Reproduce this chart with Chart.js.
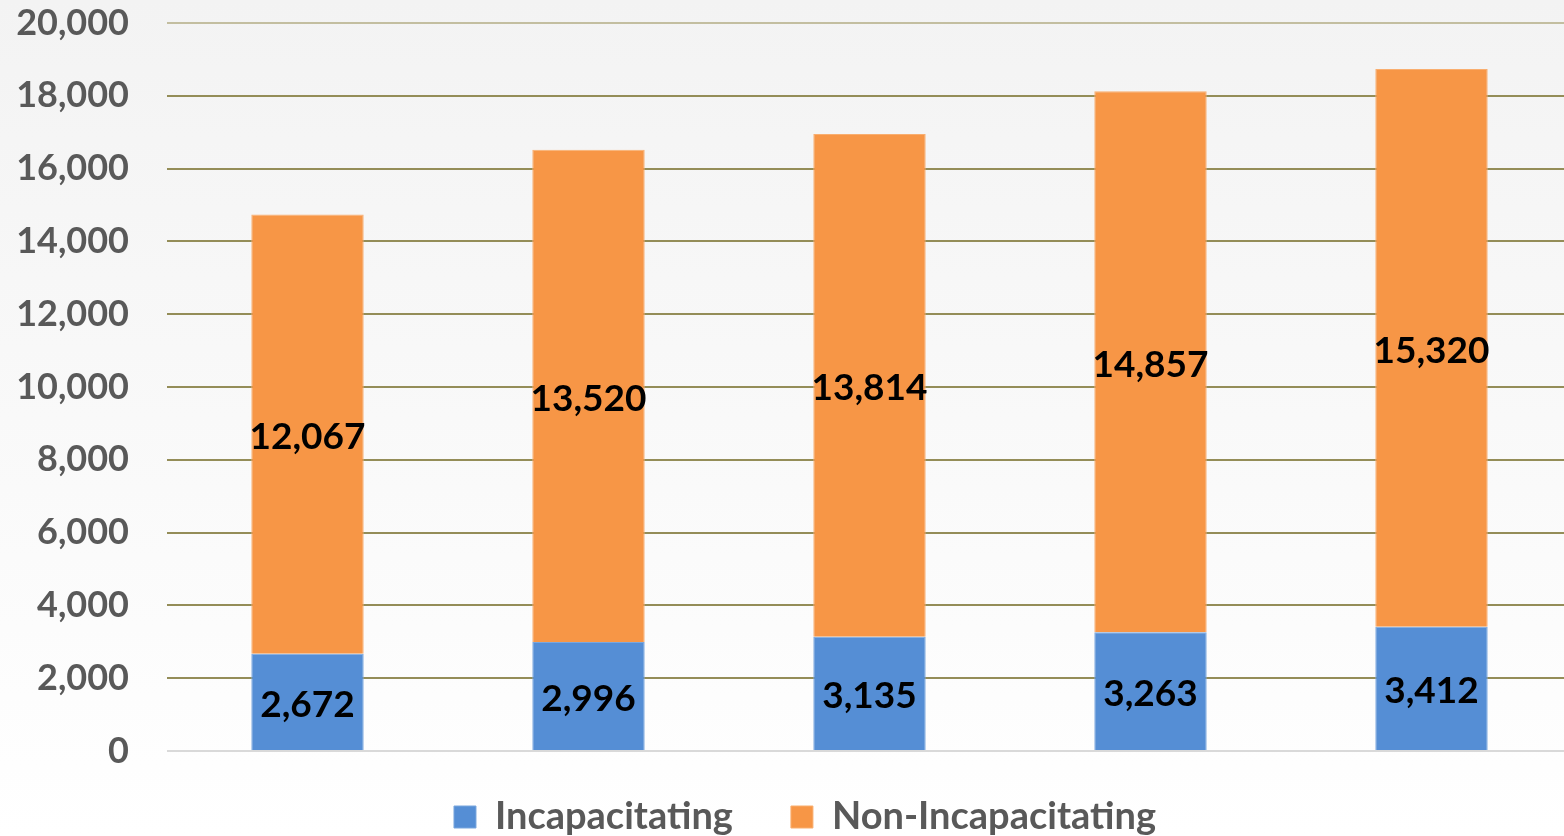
<!DOCTYPE html>
<html>
<head>
<meta charset="utf-8">
<script src="https://cdn.jsdelivr.net/npm/chart.js"></script>
<style>
  html, body { margin: 0; padding: 0; background: #fff; overflow: hidden; }
  #wrap { width: 1572px; height: 836px; position: relative; }
</style>
</head>
<body>
<div id="wrap"><canvas id="chart"></canvas></div>
<script>
const categories = ['1', '2', '3', '4', '5'];
const incapacitating = [2672, 2996, 3135, 3263, 3412];
const nonIncapacitating = [12067, 13520, 13814, 14857, 15320];
const yTicks = [0, 2000, 4000, 6000, 8000, 10000, 12000, 14000, 16000, 18000, 20000];

const FONT = 'Lato, "Open Sans", sans-serif';

// soft grey-to-white background like the original slide
const bgPlugin = {
  id: 'bg',
  beforeDraw(chart) {
    const { ctx, width, height } = chart;
    const g = ctx.createLinearGradient(0, 0, 0, height);
    g.addColorStop(0, '#f3f3f3');
    g.addColorStop(1, '#ffffff');
    ctx.save();
    ctx.fillStyle = g;
    ctx.fillRect(0, 0, width, height);
    ctx.restore();
  },
  // nudge the legend a bit to the right, as in the original
  afterLayout(chart) {
    if (chart.legend) {
      chart.legend.left += 14;
      chart.legend.right += 14;
    }
  }
};

// value labels centred in each segment
const labelPlugin = {
  id: 'segLabels',
  afterDatasetsDraw(chart) {
    const ctx = chart.ctx;
    ctx.save();
    ctx.font = 'bold 37px ' + FONT;
    ctx.fillStyle = '#000';
    ctx.textAlign = 'center';
    ctx.textBaseline = 'middle';
    chart.data.datasets.forEach((ds, i) => {
      chart.getDatasetMeta(i).data.forEach((bar, j) => {
        const y = (bar.y + bar.base) / 2 + 3;
        ctx.fillText(ds.data[j].toLocaleString('en-US'), bar.x, y);
      });
    });
    ctx.restore();
  }
};

new Chart(document.getElementById('chart'), {
  type: 'bar',
  data: {
    labels: categories,
    datasets: [
      {
        label: 'Incapacitating',
        data: incapacitating,
        backgroundColor: '#558ed5',
        borderColor: '#7aa7de',
        borderWidth: 1,
        categoryPercentage: 1,
        barPercentage: 0.4
      },
      {
        label: 'Non-Incapacitating',
        data: nonIncapacitating,
        backgroundColor: '#f79646',
        borderColor: '#f9ae6f',
        borderWidth: 1,
        categoryPercentage: 1,
        barPercentage: 0.4
      }
    ]
  },
  options: {
    responsive: true,
    maintainAspectRatio: false,
    animation: false,
    layout: { padding: { top: 0, right: 0, left: 10, bottom: -10 } },
    scales: {
      x: {
        stacked: true,
        grid: { display: false },
        border: { display: false },
        ticks: { display: false }
      },
      y: {
        stacked: true,
        min: 0,
        max: 20000,
        afterBuildTicks(axis) { axis.ticks = yTicks.map(v => ({ value: v })); },
        afterFit(axis) { axis.width = 157; },
        border: { display: false },
        grid: {
          drawTicks: true,
          tickLength: 34,
          tickColor: 'rgba(0,0,0,0)',
          lineWidth: 2,
          color(c) {
            if (c.tick.value === 0) return '#d9d9d9';
            if (c.tick.value === 20000) return '#c3bea0';
            return '#948d58';
          }
        },
        ticks: {
          padding: 4,
          color: '#595959',
          font: { family: FONT, size: 36, weight: 'bold', lineHeight: 1.05 },
          callback: v => v.toLocaleString('en-US')
        }
      }
    },
    plugins: {
      tooltip: { enabled: false },
      legend: {
        position: 'bottom',
        labels: {
          boxWidth: 22,
          boxHeight: 22,
          padding: 39,
          color: '#595959',
          font: { family: FONT, size: 38, weight: 'bold' },
          generateLabels(chart) {
            const items = Chart.defaults.plugins.legend.labels.generateLabels(chart);
            // a little extra room between the two entries
            items.forEach((it, i) => { if (i < items.length - 1) it.text += '\u2002'; });
            return items;
          }
        }
      }
    }
  },
  plugins: [bgPlugin, labelPlugin]
});
</script>
</body>
</html>
